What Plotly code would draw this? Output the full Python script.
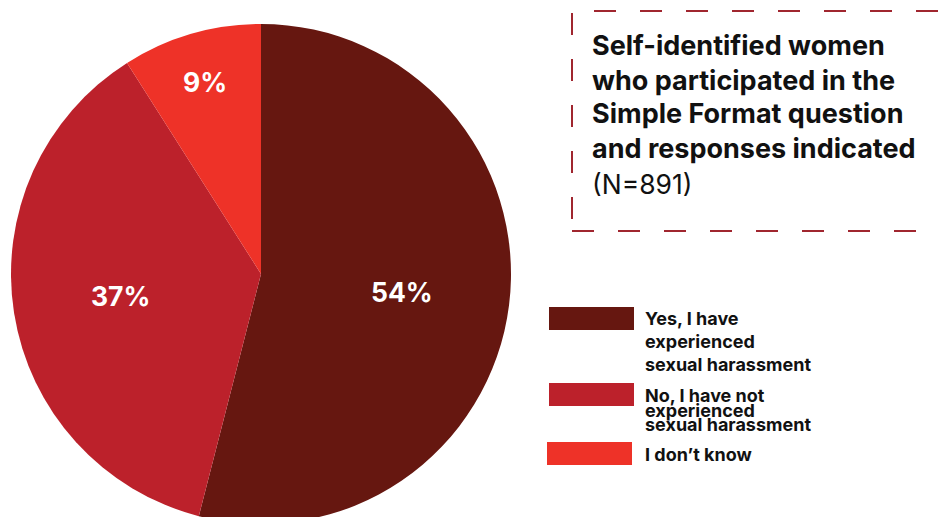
import math
import plotly.graph_objects as go

labels = ["Yes, I have experienced sexual harassment",
          "No, I have not experienced sexual harassment",
          "I don't know"]
values = [54, 37, 9]
colors = ["#661710", "#BC212B", "#EE3228"]
legend_lines = [["Yes, I have", "experienced", "sexual harassment"],
                ["No, I have not", "experienced", "sexual harassment"],
                ["I don\u2019t know"]]
title_lines = ["Self-identified women", "who participated in the",
               "Simple Format question", "and responses indicated"]
title_note = "(N=891)"

W, H = 938, 534

def px(x):
    return x / W

def py(y):
    return 1 - y / H

# pie geometry (pixels)
CX, CY, R = 261, 274, 250
label_r = [0.57, 0.57, 0.80]

fig = go.Figure()
fig.add_trace(go.Pie(
    labels=labels, values=values, sort=False, direction="clockwise", rotation=0,
    marker=dict(colors=colors, line=dict(width=0)),
    textinfo="none",
    domain=dict(x=[px(CX - R), px(CX + R)], y=[py(CY + R), py(CY - R)]),
    showlegend=False, hoverinfo="label+percent",
))

shapes = []
annotations = []

# slice labels placed along each slice's bisector
total = sum(values)
cum = 0
for i, v in enumerate(values):
    mid = (cum + v / 2) / total * 2 * math.pi
    cum += v
    r = label_r[i] * R
    x = CX + r * math.sin(mid)
    y = CY - r * math.cos(mid)
    annotations.append(dict(xref="paper", yref="paper", x=px(x), y=py(y),
                            text=f"{round(v / total * 100)}%", showarrow=False,
                            xanchor="center", yanchor="middle",
                            font=dict(family="Inter", size=26.5, color="white", weight="bold")))

# dashed title box
shapes.append(dict(type="rect", xref="paper", yref="paper",
                   x0=px(572), x1=px(990), y0=py(231), y1=py(11),
                   line=dict(color="#A0262F", width=2, dash="22px,24px"),
                   fillcolor="rgba(0,0,0,0)"))
for i, t in enumerate(title_lines):
    annotations.append(dict(xref="paper", yref="paper", x=px(590), y=py(46 + 34 * i),
                            text=t, showarrow=False, xanchor="left", yanchor="middle",
                            font=dict(family="Inter", size=27, color="#111111", weight="bold")))
annotations.append(dict(xref="paper", yref="paper", x=px(590), y=py(184),
                        text=title_note, showarrow=False, xanchor="left", yanchor="middle",
                        font=dict(family="Inter", size=26.5, color="#111111")))

# custom legend
sw_top = [307, 383, 442]
sw_x0 = [549, 549, 547]
line_y = [[318, 341, 364], [395, 410, 425], [454]]
for i in range(len(labels)):
    shapes.append(dict(type="rect", xref="paper", yref="paper",
                       x0=px(sw_x0[i]), x1=px(sw_x0[i] + 85),
                       y0=py(sw_top[i] + 23), y1=py(sw_top[i]),
                       line=dict(width=0), fillcolor=colors[i]))
    for j, t in enumerate(legend_lines[i]):
        annotations.append(dict(xref="paper", yref="paper", x=px(643), y=py(line_y[i][j]),
                                text=t, showarrow=False, xanchor="left", yanchor="middle",
                                font=dict(family="Inter", size=18, color="#111111", weight="bold")))

fig.update_layout(width=W, height=H, margin=dict(l=0, r=0, t=0, b=0),
                  paper_bgcolor="white", plot_bgcolor="white",
                  shapes=shapes, annotations=annotations)

fig.write_html("out.html", config={"displayModeBar": False},
               post_script="document.body.style.margin='0';document.body.style.overflow='hidden';document.documentElement.style.overflow='hidden';")
